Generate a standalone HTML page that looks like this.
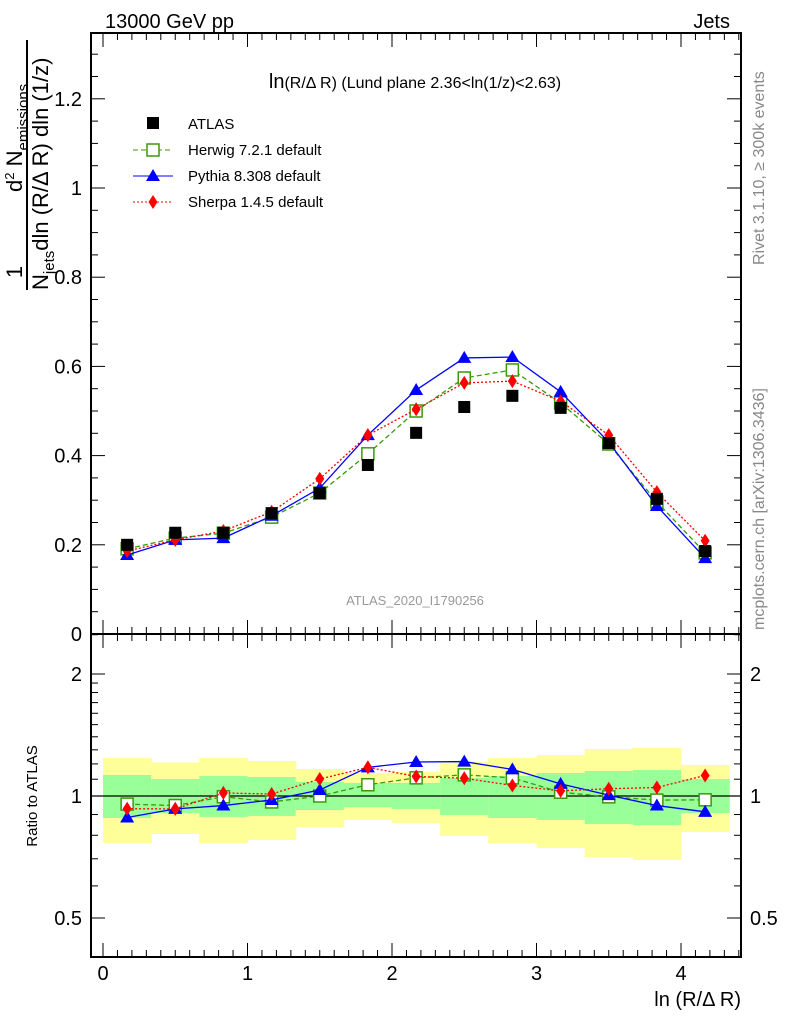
<!DOCTYPE html>
<html><head><meta charset="utf-8"><style>
body{margin:0;background:#fff}
svg{display:block;font-family:"Liberation Sans",sans-serif}
</style></head><body>
<svg id="c" width="786" height="1024" viewBox="0 0 786 1024">
<text x="105" y="28" font-size="20">13000 GeV pp</text>
<text x="730" y="28" font-size="20" text-anchor="end">Jets</text>
<text x="415" y="88" font-size="16" text-anchor="middle"><tspan font-size="20">ln</tspan>(R/Δ R) (Lund plane 2.36&lt;ln(1/z)&lt;2.63)</text>
<text x="415" y="605" font-size="13" fill="#999" text-anchor="middle">ATLAS_2020_I1790256</text>
<text transform="translate(764,265) rotate(-90)" font-size="16" fill="#888">Rivet 3.1.10, ≥ 300k events</text>
<text transform="translate(764,630) rotate(-90)" font-size="16" fill="#888">mcplots.cern.ch [arXiv:1306.3436]</text>
<g>
<line x1="27" y1="40" x2="27" y2="290" stroke="#000" stroke-width="2"/>
<text transform="translate(22,272) rotate(-90)" font-size="22" text-anchor="middle">1</text>
<text transform="translate(22,192) rotate(-90)" font-size="22">d<tspan font-size="13" dy="-8">2</tspan><tspan dy="8"> N</tspan><tspan font-size="15" dy="6">emissions</tspan></text>
<text transform="translate(48,290) rotate(-90)" font-size="22">N<tspan font-size="15" dy="6">jets</tspan><tspan dy="-6">dln (R/Δ R) dln (1/z)</tspan></text>
</g>
<text transform="translate(37,796) rotate(-90)" font-size="15" text-anchor="middle">Ratio to ATLAS</text>
<text x="741" y="1006" font-size="20" text-anchor="end">ln (R/Δ R)</text>
<g id="bands"></g><g id="marks"></g><g id="axes"></g>
<g font-size="15">
<g><rect x="147" y="117" width="12" height="12" fill="#000"/><text x="188" y="129">ATLAS</text></g>
<g><line x1="133" y1="150" x2="173" y2="150" stroke="#3a9a0a" stroke-dasharray="5,3"/><rect x="147" y="144" width="12" height="12" fill="#fff" stroke="#3a9a0a" stroke-width="1.5"/><text x="188" y="155">Herwig 7.2.1 default</text></g>
<g><line x1="133" y1="176" x2="173" y2="176" stroke="#00f"/><polygon points="153,169 160,181 146,181" fill="#00f"/><text x="188" y="181">Pythia 8.308 default</text></g>
<g><line x1="133" y1="202" x2="173" y2="202" stroke="#f00" stroke-dasharray="2,2"/><polygon points="153,195 157.5,202 153,209 148.5,202" fill="#f00"/><text x="188" y="207">Sherpa 1.4.5 default</text></g>
</g>
</svg>
<script>
const xs=[0.167,0.5,0.833,1.167,1.5,1.833,2.167,2.5,2.833,3.167,3.5,3.833,4.167];
const atlas=[0.2,0.227,0.227,0.271,0.316,0.379,0.451,0.509,0.534,0.507,0.428,0.303,0.186];
const herwig=[0.191,0.215,0.226,0.262,0.316,0.404,0.5,0.574,0.592,0.518,0.426,0.296,0.182];
const pythia=[0.177,0.211,0.215,0.265,0.327,0.446,0.547,0.619,0.621,0.543,0.43,0.287,0.17];
const sherpa=[0.186,0.211,0.231,0.274,0.348,0.446,0.504,0.563,0.567,0.522,0.446,0.318,0.209];
const yelHi=[1.24,1.21,1.24,1.22,1.166,1.14,1.146,1.213,1.24,1.262,1.306,1.314,1.193];
const yelLo=[0.766,0.806,0.766,0.779,0.839,0.873,0.858,0.797,0.766,0.744,0.707,0.695,0.815];
const grnHi=[1.127,1.101,1.12,1.114,1.083,1.077,1.077,1.108,1.12,1.14,1.153,1.159,1.101];
const grnLo=[0.883,0.908,0.888,0.893,0.923,0.939,0.929,0.898,0.883,0.873,0.853,0.848,0.908];
const mainTicks=[0,0.2,0.4,0.6,0.8,1,1.2];
const xTicks=[0,1,2,3,4];
const ratioTicks=[0.5,1,2];
const NS='http://www.w3.org/2000/svg';
const X=v=>103+v*144.5, Y=v=>634-v*446, R=v=>796-Math.log2(v)*122;
const L=91,Rt=741,T=33,M=634,B=957;
function el(p,t,a){const e=document.createElementNS(NS,t);for(const k in a)e.setAttribute(k,a[k]);p.appendChild(e);return e;}
const bands=document.getElementById('bands'),marks=document.getElementById('marks'),axes=document.getElementById('axes');
xs.forEach((x,i)=>{
 let r=el(bands,'rect',{x:X(x-1/6),y:R(yelHi[i]),width:X(x+1/6)-X(x-1/6)+0.5,height:R(yelLo[i])-R(yelHi[i]),fill:'#ffff99'});
 
 let g=el(bands,'rect',{x:X(x-1/6),y:R(grnHi[i]),width:X(x+1/6)-X(x-1/6)+0.5,height:R(grnLo[i])-R(grnHi[i]),fill:'#99ff99'});
 
});
const ref=el(marks,'line',{x1:L,x2:Rt,y1:R(1),y2:R(1),stroke:'#000','stroke-width':1.2});

function marker(p,type,cx,cy,col){
 if(type==='sq')return el(p,'rect',{x:cx-6,y:cy-6,width:12,height:12,fill:'#fff',stroke:col,'stroke-width':1.5});
 if(type==='tri')return el(p,'polygon',{points:`${cx},${cy-7} ${cx+7},${cy+5} ${cx-7},${cy+5}`,fill:col});
 if(type==='dia')return el(p,'polygon',{points:`${cx},${cy-7} ${cx+4.5},${cy} ${cx},${cy+7} ${cx-4.5},${cy}`,fill:col});
}
const series=[['herwig',herwig,'#3a9a0a','5,3','sq'],['pythia',pythia,'#00f','','tri'],['sherpa',sherpa,'#f00','2,2','dia']];
series.forEach(([n,d,c,da,t])=>{
 [[Y,d],[R,d.map((v,i)=>v/atlas[i])]].forEach(([f,vals],k)=>{
  const g=el(marks,'g',{});
  
  
  el(g,'polyline',{points:xs.map((x,i)=>X(x)+','+f(vals[i])).join(' '),fill:'none',stroke:c,'stroke-width':1.3,'stroke-dasharray':da});
  xs.forEach((x,i)=>{const m=marker(g,t,X(x),f(vals[i]),c);
   });
 });
});
xs.forEach((x,i)=>{const r=el(marks,'rect',{x:X(x)-6,y:Y(atlas[i])-6,width:12,height:12,fill:'#000'});
 });
[[T,M],[M,B]].forEach(([a,b])=>el(axes,'rect',{x:L,y:a,width:Rt-L,height:b-a,fill:'none',stroke:'#000','stroke-width':2}));
for(let v=0;v<=1.35;v+=0.05){const maj=Math.abs(v/0.2-Math.round(v/0.2))<1e-6;const len=maj?14:7;const y=Y(v);if(y<T)break;
 el(axes,'line',{x1:L,x2:L+len,y1:y,y2:y,stroke:'#000'});el(axes,'line',{x1:Rt,x2:Rt-len,y1:y,y2:y,stroke:'#000'});}
mainTicks.forEach(v=>{const t=el(axes,'text',{x:82,y:Y(v)+7,'font-size':20,'text-anchor':'end'});t.textContent=String(v);
 });
[0.5,0.6,0.7,0.8,0.9,1,1.1,1.2,1.3,1.4,1.5,1.6,1.7,1.8,1.9,2,2.5].forEach(v=>{const maj=ratioTicks.includes(v);const len=maj?14:7;const y=R(v);
 el(axes,'line',{x1:L,x2:L+len,y1:y,y2:y,stroke:'#000'});el(axes,'line',{x1:Rt,x2:Rt-len,y1:y,y2:y,stroke:'#000'});});
ratioTicks.forEach(v=>{[[82,'end'],[750,'start']].forEach(([x,a])=>{const t=el(axes,'text',{x:x,y:R(v)+7,'font-size':20,'text-anchor':a});t.textContent=String(v);
 });});
for(let v=0;v<=4.4;v+=0.1){const maj=Math.abs(v-Math.round(v))<1e-6;const len=maj?14:7;const x=X(v);
 [[T,1],[M,-1],[M,1],[B,-1]].forEach(([y,s])=>el(axes,'line',{x1:x,x2:x,y1:y,y2:y+s*len,stroke:'#000'}));}
xTicks.forEach(v=>{const t=el(axes,'text',{x:X(v),y:980,'font-size':20,'text-anchor':'middle'});t.textContent=String(v);
 });
</script>
</body></html>
